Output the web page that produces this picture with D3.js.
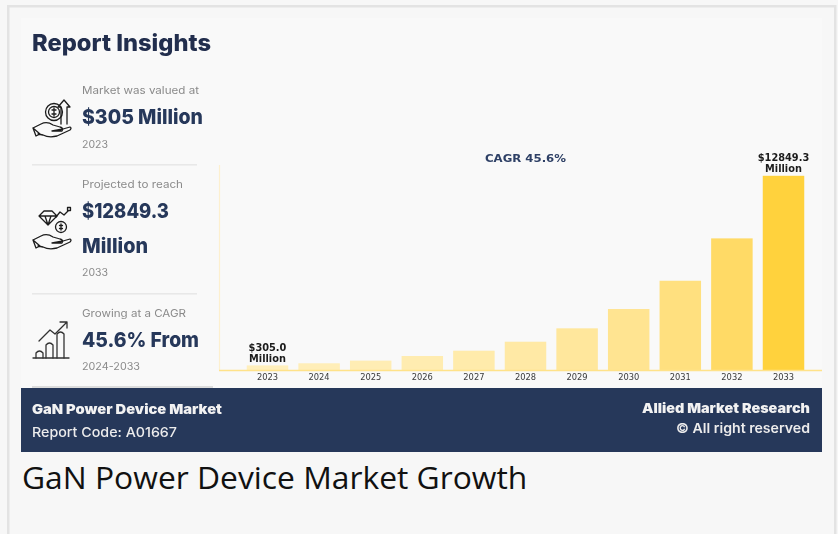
<!DOCTYPE html>
<html><head><meta charset="utf-8">
<script src="https://cdn.jsdelivr.net/npm/d3@7"></script>
<style>
html,body{margin:0;padding:0;background:#f7f7f7;overflow:hidden}
svg{display:block}
</style></head><body><svg id="c" width="838" height="534"></svg>
<script>
const years=["2023","2024","2025","2026","2027","2028","2029","2030","2031","2032","2033"];
const marketValues=[305,444,620,926,1276,1871,2757,4034,5905,8709,12849.3];
const barLabels={"2023":["$305.0","Million"],"2033":["$12849.3","Million"]};
const barPalette=["#ffefbc","#ffeeb8","#ffedb4","#ffecb0","#ffebab","#ffe9a5","#ffe79c","#ffe491","#ffe07f","#ffda66","#ffd23c"];

const NAVY="#26375a",POP="Inter, 'Open Sans', sans-serif",GREY="#8a8a8a";
const svg=d3.select("#c");
svg.append("rect").attr("width",838).attr("height",534).attr("fill","#f7f7f7");
svg.append("rect").attr("x",7).attr("y",5).attr("width",2.5).attr("height",529).attr("fill","#e3e3e3");
svg.append("rect").attr("x",7).attr("y",5).attr("width",829).attr("height",2.5).attr("fill","#e3e3e3");
svg.append("rect").attr("x",834).attr("y",5).attr("width",2.5).attr("height",529).attr("fill","#e3e3e3");

svg.append("defs").append("filter").attr("id","soft").append("feGaussianBlur").attr("stdDeviation",0.5);
const g=svg.append("g").attr("filter","url(#soft)");
g.append("rect").attr("x",21).attr("y",18).attr("width",801).attr("height",370).attr("fill","#f9f9f9");

function text(s,x,y,size,weight,fill,width,anchor="start",font=POP){
  const t=g.append("text").attr("x",x).attr("y",y).attr("font-size",size).attr("font-weight",weight)
    .attr("fill",fill).attr("text-anchor",anchor).attr("font-family",font).text(s);
  if(width) t.attr("textLength",width).attr("lengthAdjust","spacingAndGlyphs");
  return t;
}
text("Report Insights",32,51,23,800,"#232f4e",179);
text("Market was valued at",82,94,10.5,400,GREY,117);
text("$305 Million",82,124,20.5,800,NAVY,121);
text("2023",82,148,10.5,400,GREY,26);
text("Projected to reach",82,188,10.5,400,GREY,101);
text("$12849.3",82,218,20.5,800,NAVY,87);
text("Million",82,253,20.5,800,NAVY,66);
text("2033",82,276,10.5,400,GREY,26);
text("Growing at a CAGR",82,317,10.5,400,GREY,104);
text("45.6% From",82,347,20.5,800,NAVY,117);
text("2024-2033",82,370,10.5,400,GREY,58);
[164,293].forEach(y=>g.append("rect").attr("x",32).attr("y",y).attr("width",165).attr("height",1.6).attr("fill","#e8e8e8"));
g.append("rect").attr("x",32).attr("y",386).attr("width",181).attr("height",2).attr("fill","#dcdcdc");

// icons
const ic=g.append("g").attr("fill","none").attr("stroke","#1d1d1d").attr("stroke-width",1.3).attr("stroke-linejoin","round").attr("stroke-linecap","round");
const hand="M0 9 L8 5 Q14 2 20 6 L27 8 Q31 9 29 12 L20 12 M19 12 L30 10 L37 8 Q39 9 37 11 L24 17 Q16 19 10 16 L5 15 M0 9 L3 17 L7 15 Z";
ic.append("path").attr("d",hand).attr("transform","translate(33,119)");
ic.append("circle").attr("cx",54).attr("cy",112).attr("r",8.5);
ic.append("circle").attr("cx",54).attr("cy",112).attr("r",5.5);
ic.append("path").attr("d","M54 108V116M52 110H56M52 114H56");
ic.append("path").attr("d","M61 124V107H58L64 100L70 107H67V124");
ic.append("path").attr("d",hand).attr("transform","translate(33,231)");
ic.append("path").attr("d","M39 216L44 211H52L57 216L48 225Z M39 216H57M45 216L48 225L51 216");
ic.append("circle").attr("cx",61).attr("cy",227).attr("r",5.5);
ic.append("path").attr("d","M61 224V230M59.5 225.5H62.5M59.5 228.5H62.5");
ic.append("path").attr("d","M56 217L60 212L64 215L68 211");
ic.append("rect").attr("x",67.5).attr("y",207.5).attr("width",3).attr("height",3);
const ic3=ic.append("g").attr("stroke","#333").attr("stroke-width",1.3);
ic3.append("path").attr("d","M33 358H69");
[[36,351],[46,343],[57,332]].forEach(([x,y])=>ic3.append("path").attr("d",`M${x} 358V${y+2}Q${x+3.5} ${y-2} ${x+7} ${y+2}V358`));
ic3.append("path").attr("d","M39 341L50 330L55 334L66 323M60 322H67V328");

// chart
const x=d3.scaleBand().domain(years).range([241.7,809.3]).paddingInner(0.196).paddingOuter(0.098);
const y=d3.scaleLinear().domain([0,12849.3]).range([370,175.8]);
const colour=d3.scaleOrdinal().domain(years).range(barPalette);
g.append("line").attr("x1",219.5).attr("x2",219.5).attr("y1",165).attr("y2",370).attr("stroke","#fdf0cf").attr("stroke-width",1.2);
g.selectAll("rect.bar").data(years).join("rect").attr("class","bar")
  .attr("x",d=>x(d)).attr("width",x.bandwidth())
  .attr("y",(d,i)=>y(marketValues[i])).attr("height",(d,i)=>y(0)-y(marketValues[i]))
  .attr("fill",d=>colour(d));
const axis=g.append("g").attr("transform","translate(0,370)").call(d3.axisBottom(x).tickSize(0).tickPadding(4));
axis.select("path").remove();
g.append("line").attr("x1",219).attr("x2",822).attr("y1",370.5).attr("y2",370.5).attr("stroke","#ffe28a").attr("stroke-width",1.4);
axis.selectAll("text").attr("font-family","'DejaVu Sans', sans-serif").attr("font-size",8.3).attr("fill","#3a3a3a");
const labelFont="'DejaVu Sans', sans-serif";
Object.entries(barLabels).forEach(([yr,lines])=>{
  const cx=x(yr)+x.bandwidth()/2, top=y(marketValues[years.indexOf(yr)]);
  lines.forEach((t,i)=>text(t,cx,top-(lines.length-1-i)*11-3.5,9.8,700,"#1a1a1a",null,"middle",labelFont));
});
text("CAGR 45.6%",525.5,162,11.2,700,"#2f4166",81,"middle",labelFont);

// footer band
g.append("rect").attr("x",21).attr("y",388).attr("width",801).attr("height",64).attr("fill",NAVY);
text("GaN Power Device Market",32,414,13.5,900,"#f2f2f2",190);
text("Report Code: A01667",32,437,13.5,500,"#ececec",145);
text("Allied Market Research",810,413,13.5,900,"#f2f2f2",168,"end");
text("© All right reserved",810,433,13.5,600,"#ececec",134,"end");

svg.append("text").attr("x",22).attr("y",489).attr("font-family","'Open Sans', sans-serif").attr("font-size",31.8).attr("fill","#111").text("GaN Power Device Market Growth");
</script></body></html>
